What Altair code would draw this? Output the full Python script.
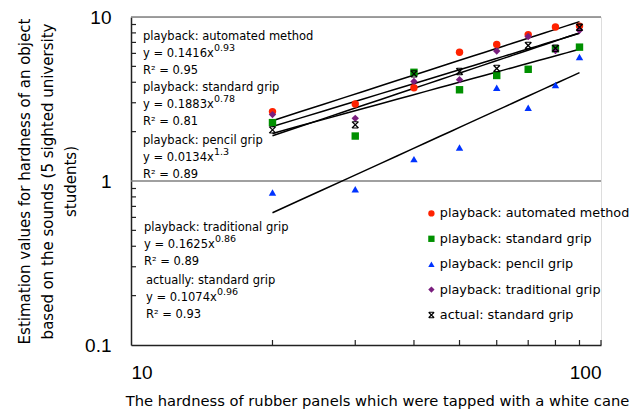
import altair as alt
import pandas as pd

# ---- data ----
hardness = [20, 30, 40, 50, 60, 70, 80, 90]
series_names = [
    "playback: automated method",
    "playback: standard grip",
    "playback: pencil grip",
    "playback: traditional grip",
    "actual: standard grip",
]
automated = [2.65, 2.95, 3.7, 6.1, 6.8, 7.8, 8.7, 8.8]
standard = [2.27, 1.88, 4.6, 3.6, 4.4, 4.8, 6.4, 6.55]
pencil = [0.85, 0.89, 1.36, 1.6, 3.7, 2.8, 3.85, 5.7]
traditional = [2.54, 2.41, 4.05, 4.15, 6.2, 7.6, 6.25, 8.3]
actual = [2.05, 2.2, 4.5, 4.65, 4.85, 6.7, 6.45, 8.65]

x_ticks = [20, 30, 40, 50, 60, 70, 80, 90, 100]
y_ticks = [0.2, 0.3, 0.4, 0.5, 0.6, 0.7, 0.8, 0.9, 2, 3, 4, 5, 6, 7, 8, 9]
grid_values = [1, 10]

ann_titles = [
    "playback: automated method",
    "playback: standard grip",
    "playback: pencil grip",
    "playback: traditional grip",
    "actually: standard grip",
]
ann_coef = ["0.1416", "0.1883", "0.0134", "0.1625", "0.1074"]
ann_exp = ["0.93", "0.78", "1.3", "0.86", "0.96"]
ann_r2 = ["0.95", "0.81", "0.89", "0.89", "0.93"]

colors = ["#FF2200", "#009000", "#0033FF", "#7A1E7E", "#000000"]
x_path = ("M-0.75,-1L1,0.75L0.75,1L-1,-0.75Z"
          "M0.75,-1L1,-0.75L-0.75,1L-1,0.75Z"
          "M-0.7,-1L0.7,-1L0.7,-0.72L-0.7,-0.72Z"
          "M-0.7,0.72L0.7,0.72L0.7,1L-0.7,1Z")
shapes = ["circle", "square", "triangle-up", "diamond", x_path]

rows = []
for name, vals in zip(series_names, [automated, standard, pencil, traditional, actual]):
    for h, v in zip(hardness, vals):
        rows.append({"series": name, "hardness": h, "estimate": v})
df = pd.DataFrame(rows)

W, H = 470, 328
TEXT_FONT = "DejaVu Sans"
NUM_FONT = "Liberation Sans"

xscale = alt.Scale(type="log", domain=[10, 100])
yscale = alt.Scale(type="log", domain=[0.1, 10])
xtitle = "The hardness of rubber panels which were tapped with a white cane"
ytitle = ["Estimation values for hardness of an object",
          "based on the sounds (5 sighted university",
          "students)"]
xaxis = alt.Axis(values=[10, 100], format="~g", tickSize=0, labelPadding=18,
                 labelFont=NUM_FONT, labelFontSize=19, labelColor="#000",
                 domainColor="#222", domainWidth=1.5, grid=False,
                 titleFont=TEXT_FONT, titleFontSize=14.7, titleFontWeight="normal",
                 titleColor="#000", titleX=246, titleY=60, titleAlign="center",
                 titleBaseline="alphabetic")
yaxis = alt.Axis(values=[0.1, 1, 10], format="~g", tickSize=0, labelPadding=20,
                 labelFont=NUM_FONT, labelFontSize=19, labelColor="#000",
                 domainColor="#222", domainWidth=1.5, grid=False,
                 titleFont=TEXT_FONT, titleFontSize=15, titleFontWeight="normal",
                 titleColor="#000", titlePadding=6, titleLineHeight=23)


def X(field):
    return alt.X(field, type="quantitative", scale=xscale, axis=xaxis, title=xtitle)


def Y(field):
    return alt.Y(field, type="quantitative", scale=yscale, axis=yaxis, title=ytitle)


color_enc = alt.Color("series:N", scale=alt.Scale(domain=series_names, range=colors),
                      legend=alt.Legend(title=None, orient="none", legendX=294, legendY=190,
                                        labelFont=TEXT_FONT, labelFontSize=12.8, labelColor="#000",
                                        labelLimit=400, symbolSize=40, rowPadding=11.4,
                                        labelOffset=2, symbolStrokeWidth=0, padding=0))
shape_enc = alt.Shape("series:N", scale=alt.Scale(domain=series_names, range=shapes))

grid = alt.Chart(pd.DataFrame({"g": grid_values})).mark_rule(
    color="#808080", strokeWidth=1.5).encode(y=Y("g"), x=alt.value(0), x2=alt.value(W))

xt = alt.Chart(pd.DataFrame({"t": x_ticks})).mark_rule(
    color="#222", strokeWidth=1.2).encode(x=X("t"), y=alt.value(H), y2=alt.value(H - 5))
yt = alt.Chart(pd.DataFrame({"t": y_ticks})).mark_rule(
    color="#222", strokeWidth=1.2).encode(y=Y("t"), x=alt.value(0), x2=alt.value(5))

trend = alt.Chart(df).transform_regression(
    "hardness", "estimate", method="pow", groupby=["series"], extent=[20, 90]
).mark_line(color="#000", strokeWidth=1.5).encode(
    x=X("hardness"), y=Y("estimate"), detail="series:N")

points = alt.Chart(df).mark_point(filled=True, size=55, opacity=1).encode(
    x=X("hardness"), y=Y("estimate"), color=color_enc, shape=shape_enc)

# annotation layout (pixel positions inside the plot area)
block_x = [12, 12, 12, 13, 15]
block_y = [20, 71, 124, 211, 264]
line_gap = 17
eq_width = 71
ANN_SIZE = 11.5

ann_layers = []
for i in range(5):
    bx, by = block_x[i], block_y[i]
    for txt, dy, px, fs in [
        (ann_titles[i], 0, bx, ANN_SIZE),
        ("y = " + ann_coef[i] + "x", line_gap, bx, ANN_SIZE),
        ("R² = " + ann_r2[i], 2 * line_gap, bx, ANN_SIZE),
        (ann_exp[i], line_gap - 6, bx + eq_width, 9.5),
    ]:
        ann_layers.append(
            alt.Chart(pd.DataFrame({"t": [txt]})).mark_text(
                align="left", baseline="middle", font=TEXT_FONT, fontSize=fs, color="#000"
            ).encode(text="t:N", x=alt.value(px), y=alt.value(by + dy))
        )

chart = alt.layer(grid, xt, yt, trend, points, *ann_layers).properties(
    width=W, height=H,
    autosize=alt.AutoSizeParams(type="none"),
    padding={"left": 123, "top": 9, "right": 30, "bottom": 70},
).configure_view(stroke=None).configure(background="white")

chart.save("out.html", embed_options={"renderer": "svg", "actions": False})
